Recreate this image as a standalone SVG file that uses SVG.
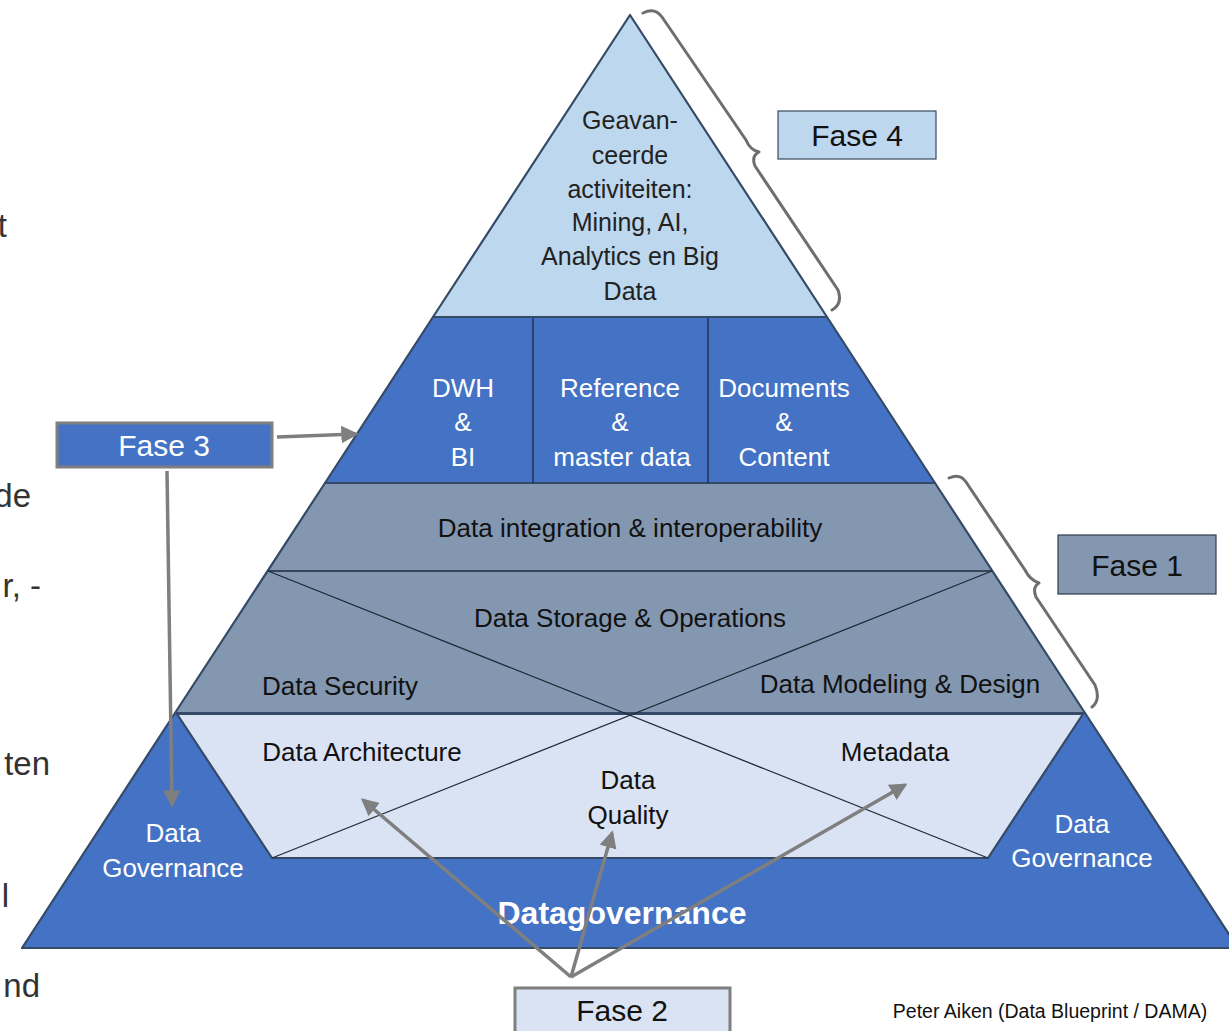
<svg xmlns="http://www.w3.org/2000/svg" width="1229" height="1031" viewBox="0 0 1229 1031">
<defs>
<marker id="ah" markerWidth="5" markerHeight="5" refX="4.2" refY="2.5" orient="auto" markerUnits="strokeWidth">
<path d="M0,0 L5,2.5 L0,5 Z" fill="#7F7F7F"/>
</marker>
<style>
.band{stroke:#354A66;stroke-width:2.2;stroke-linejoin:round}
.thin{stroke:#1F2A38;stroke-width:1.3;fill:none}
.t{font-family:"Liberation Sans",Arial,sans-serif;font-size:26px;text-anchor:middle;fill:#111}
.tt{font-family:"Liberation Sans",Arial,sans-serif;font-size:25px;text-anchor:middle;fill:#222}
.w{fill:#fff}
.f{font-family:"Liberation Sans",Arial,sans-serif;font-size:30px;text-anchor:middle}
.arr{stroke:#7F7F7F;stroke-width:3.5;fill:none;marker-end:url(#ah)}
.brace{stroke:#6E6E6E;stroke-width:3;fill:none;stroke-linecap:round;stroke-linejoin:round}
.frag{font-family:"Liberation Sans",Arial,sans-serif;font-size:33px;fill:#333;text-anchor:end}
</style>
</defs>
<rect width="1229" height="1031" fill="#fff"/>
<g id="fragments">
<text class="frag" x="7" y="237">t</text>
<text class="frag" x="31" y="507">de</text>
<text class="frag" x="41" y="597">r, -</text>
<text class="frag" x="50" y="775">ten</text>
<text class="frag" x="9" y="907">l</text>
<text class="frag" x="40" y="997">nd</text>
</g>
<g id="governance-base">
<polygon class="band" points="175,713 1085,713 1238,948 22,948" fill="#4472C4"/>
<text x="622" y="924" font-family="Liberation Sans,Arial,sans-serif" font-size="32" font-weight="bold" fill="#fff" text-anchor="middle">Datagovernance</text>
<text class="t w" x="173" y="842">Data</text>
<text class="t w" x="173" y="877">Governance</text>
<text class="t w" x="1082" y="833">Data</text>
<text class="t w" x="1082" y="867">Governance</text>
</g>
<g id="fase2-layer">
<polygon class="band" points="177,714 1083,714 988,858 272,858" fill="#DAE3F3"/>
<text class="t" x="362" y="761">Data Architecture</text>
<text class="t" x="895" y="761">Metadata</text>
<text class="t" x="628" y="789">Data</text>
<text class="t" x="628" y="824">Quality</text>
</g>
<g id="fase1-layer">
<polygon class="band" points="325,483 935,483 1085,713 175,713" fill="#8497B0"/>
<text class="t" x="630" y="537">Data integration &amp; interoperability</text>
<text class="t" x="630" y="627">Data Storage &amp; Operations</text>
<text class="t" x="340" y="695">Data Security</text>
<text class="t" x="900" y="693">Data Modeling &amp; Design</text>
</g>
<g id="lines">
<line class="thin" x1="268" y1="571" x2="992" y2="571"/>
<line class="thin" x1="268" y1="571" x2="988" y2="858"/>
<line class="thin" x1="992" y1="571" x2="272" y2="858"/>
</g>
<g id="fase3-layer">
<polygon class="band" points="433,317 827,317 935,483 325,483" fill="#4472C4"/>
<line class="thin" x1="533" y1="317" x2="533" y2="483"/>
<line class="thin" x1="708" y1="317" x2="708" y2="483"/>
<text class="t w" x="463" y="397">DWH</text>
<text class="t w" x="463" y="431">&amp;</text>
<text class="t w" x="463" y="466">BI</text>
<text class="t w" x="620" y="397">Reference</text>
<text class="t w" x="620" y="431">&amp;</text>
<text class="t w" x="622" y="466">master data</text>
<text class="t w" x="784" y="397">Documents</text>
<text class="t w" x="784" y="431">&amp;</text>
<text class="t w" x="784" y="466">Content</text>
</g>
<g id="fase4-layer">
<polygon class="band" points="630,15 827,317 433,317" fill="#BDD7EE"/>
<text class="tt" x="630" y="129">Geavan-</text>
<text class="tt" x="630" y="164">ceerde</text>
<text class="tt" x="630" y="198">activiteiten:</text>
<text class="tt" x="630" y="231">Mining, AI,</text>
<text class="tt" x="630" y="265">Analytics en Big</text>
<text class="tt" x="630" y="300">Data</text>
</g>
<g id="connectors">
<path class="brace" d="M643,13 Q655,7 662,17 L746,140 Q750,150 759,152 Q751,156 755,166 L838,290 Q843,304 832,310"/>
<path class="brace" d="M949,478 Q960,473 966,482 L1025,570 Q1030,580 1039,583 Q1032,587 1036,597 L1095,685 Q1101,700 1092,707"/>
<line class="arr" x1="277" y1="437" x2="356" y2="434"/>
<line class="arr" x1="167" y1="471" x2="172" y2="805"/>
<line class="arr" x1="571" y1="977" x2="363" y2="800"/>
<line class="arr" x1="571" y1="977" x2="612" y2="833"/>
<line class="arr" x1="571" y1="977" x2="905" y2="785"/>
</g>
<g id="fase4">
<rect x="778" y="111" width="158" height="48" fill="#BDD7EE" stroke="#3A4A5E" stroke-width="1.2"/>
<text class="f" x="857" y="146" fill="#111">Fase 4</text>
</g>
<g id="fase1">
<rect x="1058" y="535" width="158" height="59" fill="#8497B0" stroke="#2F3B4C" stroke-width="1.2"/>
<text class="f" x="1137" y="576" fill="#111">Fase 1</text>
</g>
<g id="fase3">
<rect x="57" y="423" width="215" height="44" fill="#4472C4" stroke="#7F7F7F" stroke-width="3"/>
<text class="f" x="164" y="456" fill="#fff">Fase 3</text>
</g>
<g id="fase2">
<rect x="515" y="988" width="215" height="46" fill="#DAE3F3" stroke="#7F7F7F" stroke-width="3"/>
<text class="f" x="622" y="1021" fill="#111">Fase 2</text>
</g>
<text x="1050" y="1018" font-family="Liberation Sans,Arial,sans-serif" font-size="19.5" fill="#111" text-anchor="middle">Peter Aiken (Data Blueprint / DAMA)</text>
</svg>
